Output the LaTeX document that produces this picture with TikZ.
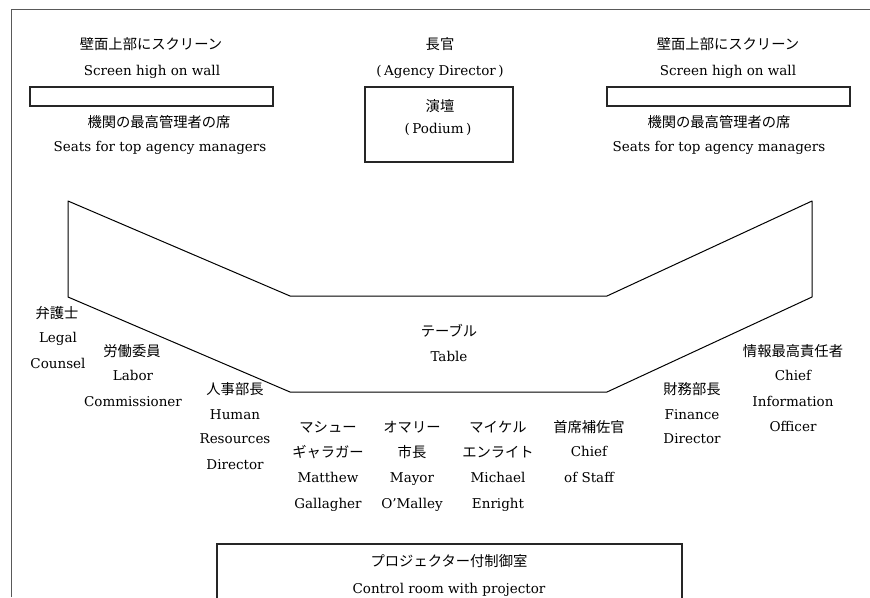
\documentclass[tikz,border=0pt]{standalone}
\usepackage{fontspec}
\setmainfont{DejaVu Serif}
\newfontfamily\jp{Noto Sans CJK JP}
\begin{document}
\begin{tikzpicture}[x=1pt,y=-1pt,
  en/.style={inner sep=0pt,font=\fontsize{13.5}{15}\selectfont,text height=9.8pt,text depth=2.8pt},
  ja/.style={inner sep=0pt,font=\jp\fontsize{14.3}{16}\selectfont,text height=10.5pt,text depth=1.5pt},
  box/.style={draw=black!85,line width=1.1pt,inner sep=0pt},
  frame/.style={draw=black!65,line width=1pt},
  tbl/.style={draw=black,line width=1pt,line join=round}]
\useasboundingbox (0,0) rectangle (870,597);
% outer frame
\coordinate (fa) at (11,597);
\coordinate (fb) at (11,9);
\coordinate (fc) at (870,9);
\draw[frame] (fa) -- (fb) -- (fc);
% screens and podium
\node[box,minimum width=243pt,minimum height=19pt] (scrL) at (151.5,96.5) {};
\node[box,minimum width=243pt,minimum height=19pt] (scrR) at (728.5,96.5) {};
\node[box,minimum width=148pt,minimum height=75pt] (pod) at (439,124.5) {};
\node[box,minimum width=465pt,minimum height=80pt] (ctrl) at (449.5,584) {};
% top texts
\node[ja] (sLj) at (151,45) {壁面上部にスクリーン};
\node[en] (sLe) at (152,72) {Screen high on wall};
\node[ja] (mLj) at (159,123) {機関の最高管理者の席};
\node[en] (mLe) at (160,148) {Seats for top agency managers};
\node[ja] (sRj) at (728,45) {壁面上部にスクリーン};
\node[en] (sRe) at (728,72) {Screen high on wall};
\node[ja] (mRj) at (719,123) {機関の最高管理者の席};
\node[en] (mRe) at (719,148) {Seats for top agency managers};
\node[ja] (dirj) at (440,45) {長官};
\node[en] (dire) at (440,72) {(\hspace{2.5pt}Agency Director\hspace{2.5pt})};
\node[ja] (podj) at (440,107) {演壇};
\node[en] (pode) at (438,130) {(\hspace{2.5pt}Podium\hspace{2.5pt})};
% table
\coordinate (t1) at (68,201);
\coordinate (t2) at (290,296);
\coordinate (t3) at (607,296);
\coordinate (t4) at (812,201);
\coordinate (t5) at (812,297);
\coordinate (t6) at (607,392);
\coordinate (t7) at (290,392);
\coordinate (t8) at (68,297);
\draw[tbl] (t1) -- (t2) -- (t3) -- (t4) -- (t5) -- (t6) -- (t7) -- (t8) -- cycle;
\node[ja] (tabj) at (449,332) {テーブル};
\node[en] (tabe) at (449,358) {Table};
% seats
\node[ja] (lcj) at (57,314) {弁護士};
\node[en] (lc1) at (58,339) {Legal};
\node[en] (lc2) at (58,365) {Counsel};
\node[ja] (lbj) at (132,352) {労働委員};
\node[en] (lb1) at (133,377) {Labor};
\node[en] (lb2) at (133,403) {Commissioner};
\node[ja] (hrj) at (235,390) {人事部長};
\node[en] (hr1) at (235,416) {Human};
\node[en] (hr2) at (235,440) {Resources};
\node[en] (hr3) at (235,466) {Director};
\node[ja] (mg1) at (328,428) {マシュー};
\node[ja] (mg2) at (328,453) {ギャラガー};
\node[en] (mg3) at (328,479) {Matthew};
\node[en] (mg4) at (328,505) {Gallagher};
\node[ja] (mo1) at (412,428) {オマリー};
\node[ja] (mo2) at (412,453) {市長};
\node[en] (mo3) at (412,479) {Mayor};
\node[en] (mo4) at (412,505) {O'Malley};
\node[ja] (me1) at (498,428) {マイケル};
\node[ja] (me2) at (498,453) {エンライト};
\node[en] (me3) at (498,479) {Michael};
\node[en] (me4) at (498,505) {Enright};
\node[ja] (cs1) at (589,428) {首席補佐官};
\node[en] (cs2) at (589,453) {Chief};
\node[en] (cs3) at (589,479) {of Staff};
\node[ja] (fdj) at (692,390) {財務部長};
\node[en] (fd1) at (692,416) {Finance};
\node[en] (fd2) at (692,440) {Director};
\node[ja] (cij) at (793,352) {情報最高責任者};
\node[en] (ci1) at (793,377) {Chief};
\node[en] (ci2) at (793,403) {Information};
\node[en] (ci3) at (793,428) {Officer};
% control room
\node[ja] (crj) at (449,562) {プロジェクター付制御室};
\node[en] (cre) at (449,590) {Control room with projector};
\end{tikzpicture}
\end{document}
